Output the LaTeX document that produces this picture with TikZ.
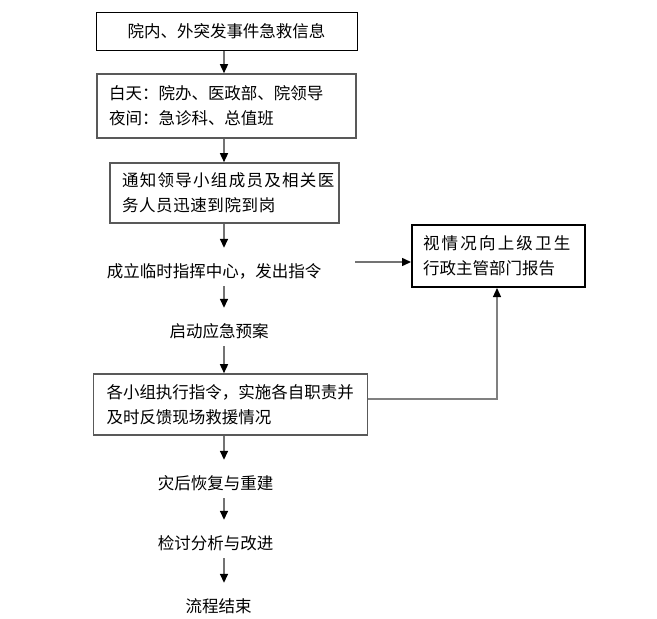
\documentclass[tikz,border=0pt]{standalone}
\usepackage{fontspec}
\setmainfont{Noto Sans CJK SC}
\usetikzlibrary{arrows.meta}
\begin{document}
\begin{tikzpicture}[x=1pt,y=-1pt,
  font=\fontsize{16.5}{25}\selectfont,
  boxbase/.style={rectangle, inner ysep=0pt, align=left, anchor=center},
  boxblack/.style={boxbase, draw=black, line width=1pt},
  boxgray/.style={boxbase, draw=black!65, line width=1.6pt},
  boxbold/.style={boxbase, draw=black, line width=2pt},
  lab/.style={inner sep=0pt, text height=29pt, text depth=9pt, anchor=base},
  arr/.style={draw=black!55, line width=1.5pt, -{Triangle[length=9pt,width=8pt,color=black]}},
  fbline/.style={draw=black!50, line width=1.2pt, -{Triangle[length=9pt,width=8pt,color=black]}}
]
\useasboundingbox (0,0) rectangle (657,619);
\fill[white] (0,0) rectangle (657,619);

\node[boxblack, minimum width=261pt, minimum height=38pt, inner xsep=0pt] (b1) at (226.5,31) {院内、外突发事件急救信息};
\node[boxgray, minimum width=259pt, minimum height=64pt, inner xsep=12pt, text width=235pt] (b2) at (226.5,106) {白天：院办、医政部、院领导\\夜间：急诊科、总值班};
\node[boxgray, minimum width=229pt, minimum height=60pt, inner xsep=12pt, text width=205pt] (b3) at (224.5,193) {通\kern1.3pt 知\kern1.3pt 领\kern1.3pt 导\kern1.3pt 小\kern1.3pt 组\kern1.3pt 成\kern1.3pt 员\kern1.3pt 及\kern1.3pt 相\kern1.3pt 关\kern1.3pt 医\\务\kern.6pt 人\kern.6pt 员\kern.6pt 迅\kern.6pt 速\kern.6pt 到\kern.6pt 院\kern.6pt 到\kern.6pt 岗};
\node[boxgray, minimum width=274pt, minimum height=61pt, inner xsep=13pt, text width=248pt] (b4) at (230.5,404.5) {各小组执行指令，实施各自职责并\\及时反馈现场救援情况};
\node[boxbold, minimum width=173pt, minimum height=62pt, inner xsep=11pt, text width=151pt] (b5) at (498.5,256) {视\kern2.2pt 情\kern2.2pt 况\kern2.2pt 向\kern2.2pt 上\kern2.2pt 级\kern2.2pt 卫\kern2.2pt 生\\行政主管部门报告};

\node[lab] (t1) at (214,277) {成立临时指挥中心，发出指令};
\node[lab] (t2) at (219,337) {启动应急预案};
\node[lab] (t3) at (215.5,489) {灾后恢复与重建};
\node[lab] (t4) at (215.5,549) {检讨分析与改进};
\node[lab] (t5) at (218.5,612) {流程结束};

\coordinate (ax) at (224,0);
\draw[arr] (b1.south -| ax) -- (b2.north -| ax);
\draw[arr] (b2.south -| ax) -- (b3.north -| ax);
\draw[arr] (b3.south -| ax) -- (t1.north -| ax);
\draw[arr] (t1.south -| ax) -- (t2.north -| ax);
\draw[arr] (t2.south -| ax) -- (b4.north -| ax);
\draw[arr] (b4.south -| ax) -- (t3.north -| ax);
\draw[arr] (t3.south -| ax) -- (t4.north -| ax);
\draw[arr] (t4.south -| ax) -- (t5.north -| ax);

\coordinate (s0) at (355,262);
\draw[arr] (s0) -- (b5.west |- s0);
\coordinate (fb) at (497,399);
\draw[fbline] (b4.east |- fb) -- (fb) -- (fb |- b5.south);
\end{tikzpicture}
\end{document}
